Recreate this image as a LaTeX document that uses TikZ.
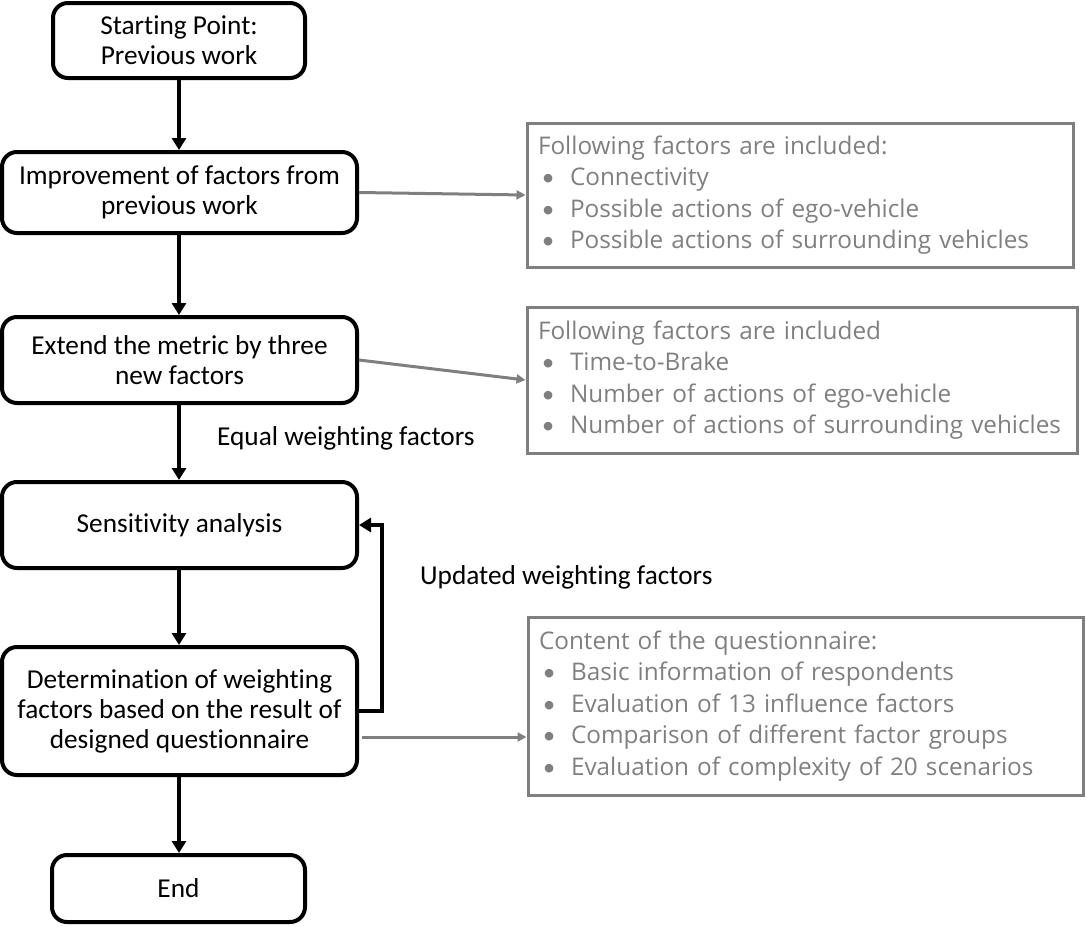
\documentclass[tikz,border=0pt]{standalone}
\usepackage{fontspec}
\setmainfont{Carlito}[Ligatures=NoCommon]
\newfontfamily\greyfont{Open Sans}
\newfontfamily\bulfont{Carlito}
\usetikzlibrary{arrows.meta}
\definecolor{grey}{HTML}{7F7F7F}
\begin{document}
\begin{tikzpicture}[x=1pt,y=-1pt,
  flowbox/.style={draw=black,line width=4pt,rounded corners=15pt,align=center,inner sep=0pt,
    font=\fontsize{27.3}{30}\selectfont,fill=white},
  infobox/.style={draw=grey,line width=3pt,text=grey,align=left,inner xsep=11pt,inner ysep=0pt,
    font=\greyfont\fontsize{24.3}{31.5}\selectfont},
  flowarrow/.style={line width=3.5pt,-{Triangle[length=12pt,width=14pt]}},
  greyarrow/.style={draw=grey,line width=3pt,-{Triangle[length=9pt,width=9pt]}},
  lbl/.style={anchor=west,inner sep=0pt,font=\fontsize{27.3}{30}\selectfont}
]
\newcommand{\bul}{\makebox[32pt][l]{{\bulfont\,•}}}
\useasboundingbox (0,0) rectangle (1086,926);

\node[flowbox,minimum width=252pt,minimum height=75pt] (start) at (179,40.5) {Starting Point:\\Previous work};
\node[flowbox,minimum width=355pt,minimum height=81pt] (impr) at (179.5,192.5) {Improvement of factors from\\previous work};
\node[flowbox,minimum width=355pt,minimum height=86pt] (ext) at (179.5,360) {Extend the metric by three\\new factors};
\node[flowbox,minimum width=355pt,minimum height=86pt] (sens) at (179.5,525) {Sensitivity analysis};
\node[flowbox,minimum width=355pt,minimum height=128pt] (det) at (179.5,711) {Determination of weighting\\factors based on the result of\\designed questionnaire};
\node[flowbox,minimum width=253pt,minimum height=67pt] (end) at (178.5,888.5) {End};

\node[infobox,text width=524pt,minimum height=144pt] (b1) at (800,195) {Following factors are included:\\
\bul Connectivity\\
\bul Possible actions of ego-vehicle\\
\bul Possible actions of surrounding vehicles};
\node[infobox,text width=528pt,minimum height=146pt] (b2) at (802,380) {Following factors are included\\
\bul Time-to-Brake\\
\bul Number of actions of ego-vehicle\\
\bul Number of actions of surrounding vehicles};
\node[infobox,text width=533pt,minimum height=178pt] (b3) at (805.5,706) {Content of the questionnaire:\\
\bul Basic information of respondents\\
\bul Evaluation of 13 influence factors\\
\bul Comparison of different factor groups\\
\bul Evaluation of complexity of 20 scenarios};

\draw[flowarrow] (start.south -| 179,0) -- (impr.north -| 179,0);
\draw[flowarrow] (impr.south -| 179,0) -- (ext.north -| 179,0);
\draw[flowarrow] (ext.south -| 179,0) -- (sens.north -| 179,0);
\draw[flowarrow] (sens.south -| 179,0) -- (det.north -| 179,0);
\draw[flowarrow] (det.south -| 179,0) -- (end.north -| 179,0);

\coordinate (fb) at (382,0);
\draw[flowarrow] (det.east) -- (det.east -| fb) -- (sens.east -| fb) -- (sens.east);

\node[lbl] (eq) at (217,438) {Equal weighting factors};
\node[lbl] (upd) at (420,577) {Updated weighting factors};

\draw[greyarrow] (impr.east) -- (b1.west);
\draw[greyarrow] (ext.east) -- (b2.west);
\coordinate (d3) at (362,737);
\draw[greyarrow] (d3) -- (d3 -| b3.west);
\end{tikzpicture}
\end{document}
